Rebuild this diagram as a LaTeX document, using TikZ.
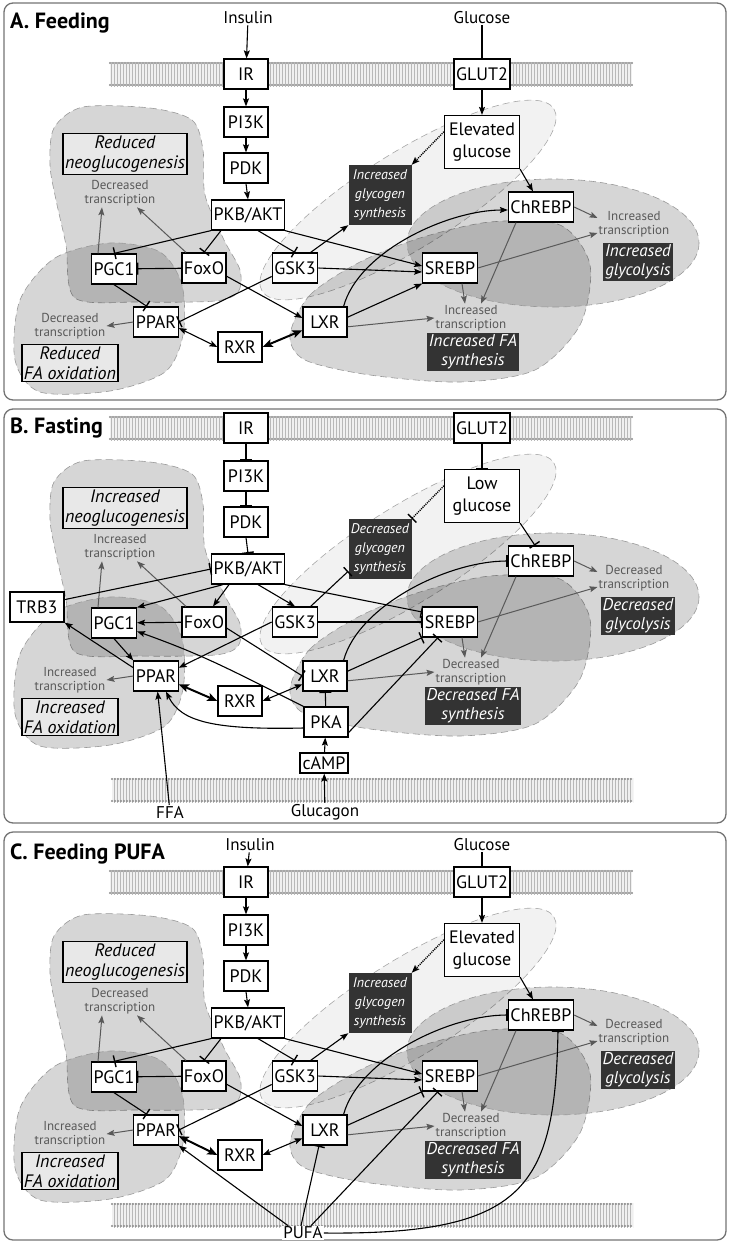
\documentclass[tikz,border=0pt]{standalone}
\usepackage{fontspec}
\setmainfont{PT Sans}
\usetikzlibrary{arrows.meta,patterns}

\begin{document}
\begin{tikzpicture}[x=1pt, y=-1pt,
    panel/.style={draw=black!55, line width=1.3pt, rounded corners=9pt},
    paneltitle/.style={anchor=west, inner sep=0pt, font=\fontsize{22}{24}\selectfont\bfseries},
    txt/.style={inner sep=1pt, font=\fontsize{17}{19}\selectfont},
    gene/.style={draw, fill=white, line width=1.2pt, minimum height=30, minimum width=44, inner sep=2pt, font=\fontsize{18}{20}\selectfont},
    lightbox/.style={draw, fill=black!9, line width=1.2pt, align=center, inner sep=2pt, font=\fontsize{18}{20}\selectfont\itshape},
    darkbox/.style={fill=black!80, text=white, align=center, inner sep=2pt, font=\fontsize{17}{19}\selectfont\itshape},
    glybox/.style={darkbox, minimum width=63, minimum height=60, inner sep=1pt, font=\fontsize{14}{19}\selectfont\itshape},
    trtext/.style={text=black!65, align=center, inner sep=1pt, font=\fontsize{13}{14.5}\selectfont},
    blob/.style={fill=black, fill opacity=0.16, draw=black!40, dash pattern=on 7pt off 4pt, line width=0.6pt},
    paleblob/.style={fill=black, fill opacity=0.05, draw=black!35, dash pattern=on 7pt off 4pt, line width=0.6pt},
    membrane/.style={fill=black!6, postaction={pattern=vertical lines, pattern color=black!28}},
    beads/.style={draw=black!45, line width=2.4pt, dash pattern=on 0pt off 3pt, line cap=round},
    act/.style={-{Stealth[length=8pt, width=6pt, inset=1.5pt]}, line width=1.1pt},
    inh/.style={-{Bar[width=12pt, line width=1.4pt]}, line width=1.1pt},
    trarr/.style={-{Stealth[length=8pt, width=6pt, inset=1.5pt]}, line width=1pt, draw=black!65},
    dimer/.style={{Stealth[length=8pt, width=6pt, inset=1.5pt]}-{Stealth[length=8pt, width=6pt, inset=1.5pt]}, line width=1.1pt},
    bigdimer/.style={{Stealth[length=10pt, width=8pt, inset=2pt]}-{Stealth[length=10pt, width=8pt, inset=2pt]}, line width=2pt},
    dotline/.style={densely dotted, line width=1.4pt}
  ]
  \useasboundingbox (0,0) rectangle (730,1243);

  % panel frames
  \draw[panel] (4,3) rectangle (726,400);
  \draw[panel] (4,409) rectangle (726,823);
  \draw[panel] (4,832) rectangle (726,1240);

  % parts shared by the three panels
  \foreach \p/\dy/\neo/\neotr/\fao/\faotr/\gly/\glc/\glctr/\fas/\fastr/\glu in {
      a/0/Reduced/Decreased/Reduced/Decreased/Increased/Increased/Increased/Increased/Increased/Elevated,
      b/354/Increased/Increased/Increased/Increased/Decreased/Decreased/Decreased/Decreased/Decreased/Low,
      c/808/Reduced/Decreased/Increased/Increased/Increased/Decreased/Decreased/Decreased/Decreased/Elevated} {
    \begin{scope}[shift={(0,\dy)}]
      % membrane
      \path[membrane] (110,62) rectangle (632,86);
      \draw[beads] (110,63) -- (632,63);
      \draw[beads] (110,85) -- (632,85);

      % shaded regions
      \draw[paleblob] (408,200) ellipse [x radius=172, y radius=48, rotate=32];
      \draw[blob] plot[smooth cycle] coordinates {(83,107) (150,108) (192,120) (203,150) (205,195) (224,240) (240,270) (238,292) (215,301) (140,302) (75,298) (66,245) (56,200) (50,165) (54,128)};
      \draw[blob] plot[smooth cycle] coordinates {(20,300) (55,258) (110,243) (160,252) (182,285) (183,335) (165,372) (110,391) (40,392) (15,360)};
      \draw[blob] plot[smooth cycle] coordinates {(290,335) (310,295) (360,262) (420,238) (490,222) (560,225) (590,265) (580,325) (535,370) (460,382) (370,375) (305,360)};
      \draw[blob] (553,243) ellipse [x radius=146, y radius=64];

      % boxes
      \node[gene] (\p-ir) at (246,74) {IR};
      \node[gene] (\p-pik) at (246,122) {PI3K};
      \node[gene] (\p-pdk) at (246,168) {PDK};
      \node[gene] (\p-pkb) at (248,215) {PKB/AKT};
      \node[gene] (\p-glut) at (482,74) {GLUT2};
      \node[gene, align=center, minimum width=75, minimum height=53, font=\fontsize{18}{22}\selectfont] (\p-glu) at (482,142) {\glu\\glucose};
      \node[gene] (\p-pgc) at (114,269) {PGC1};
      \node[gene] (\p-foxo) at (204,268) {FoxO};
      \node[gene] (\p-gsk) at (295,268) {GSK3};
      \node[gene] (\p-ppar) at (156,322) {PPAR};
      \node[gene] (\p-lxr) at (325,322) {LXR};
      \node[gene] (\p-rxr) at (240,347) {RXR};
      \node[gene] (\p-srebp) at (450,268) {SREBP};
      \node[gene] (\p-chrebp) at (541,207) {ChREBP};

      % outcomes
      \node[lightbox] (\p-neo) at (125,154) {\neo\\neoglucogenesis};
      \node[trtext] (\p-neotr) at (120,193) {\neotr\\transcription};
      \node[lightbox] (\p-fao) at (70,363) {\fao\\FA oxidation};
      \node[trtext] (\p-faotr) at (70,326) {\faotr\\transcription};
      \node[glybox] (\p-gly) at (380,195) {\gly\\glycogen\\synthesis};
      \node[darkbox] (\p-glyco) at (638,262) {\glc\\glycolysis};
      \node[trtext] (\p-glycotr) at (634,224) {\glctr\\transcription};
      \node[darkbox] (\p-fas) at (473,352) {\fas{} FA\\synthesis};
      \node[trtext] (\p-fastr) at (471,318) {\fastr\\transcription};

      % transcription arrows
      \draw[trarr] ([xshift=-16pt]\p-pgc.north) -- ([xshift=-18pt]\p-neotr.south);
      \draw[trarr] ([xshift=-18pt]\p-foxo.north) -- ([xshift=17pt]\p-neotr.south);
      \draw[trarr] (\p-ppar.west) -- (\p-faotr.east);
      \draw[trarr] (\p-chrebp.east) -- ([yshift=6pt]\p-glycotr.west);
      \draw[trarr] (\p-srebp.east) -- ([yshift=-9pt]\p-glycotr.west);
      \draw[trarr] ([xshift=12pt]\p-srebp.south) -- ([xshift=-6pt]\p-fastr.north);
      \draw[trarr] ([xshift=-25pt]\p-chrebp.south) -- ([xshift=10pt]\p-fastr.north);
      \draw[trarr] (\p-lxr.-12) -- (\p-fastr.west);
    \end{scope}
  }

  % A. Feeding
  \node[paneltitle] (a-title) at (10,23) {A. Feeding};
  \node[txt] (a-insulin) at (248,18) {Insulin};
  \node[txt] (a-glucose) at (482,18) {Glucose};
  \draw[act] (a-insulin) -- (a-ir);
  \draw[act] (a-ir) -- (a-pik);
  \draw[act] (a-pik) -- (a-pdk);
  \draw[act] (a-pdk.south) -- (a-pkb.north);
  \draw[line width=1.1pt] (a-glucose) -- (a-glut);
  \draw[act] (a-glut) -- (a-glu);
  \draw[act, dotline] (a-glu.165) -- (a-gly.north east);
  \draw[act] (a-glu.south east) -- ([xshift=-8pt]a-chrebp.north);
  \draw[inh] (a-pkb.south west) -- (a-pgc.north);
  \draw[inh] ([xshift=10pt]a-pkb.south west) -- (a-foxo.north);
  \draw[inh] ([xshift=10pt]a-pkb.south) -- (a-gsk.north);
  \draw[act] (a-pkb.south east) -- ([yshift=2pt]a-srebp.west);
  \draw[inh] (a-foxo) -- (a-pgc);
  \draw[inh] (a-pgc.south) -- ([xshift=-9pt]a-ppar.north);
  \draw[inh] (a-gsk.200) -- (a-ppar.east);
  \draw[act] (a-gsk.45) -- (a-gly.south west);
  \draw[act] (a-gsk.east) -- ([yshift=-4pt]a-srebp.west);
  \draw[act] (a-foxo.-20) -- (a-lxr.170);
  \draw[dimer] (a-ppar.-15) -- (a-rxr.west);
  \draw[bigdimer] (a-rxr.east) -- (a-lxr.200);
  \draw[act] (a-lxr.12) -- (a-srebp.south west);
  \draw[act] (a-lxr.40) .. controls +(15,-55) and +(-60,0) .. ([yshift=-3pt]a-chrebp.west);

  % B. Fasting
  \node[paneltitle] (b-title) at (10,428) {B. Fasting};
  \path[membrane] (112,778) rectangle (633,802);
  \draw[beads] (112,779) -- (633,779);
  \draw[beads] (112,801) -- (633,801);
  \node[gene, minimum width=54] (b-trb) at (37,607) {TRB3};
  \node[gene] (b-pka) at (326,722) {PKA};
  \node[gene, minimum height=20, minimum width=48, inner sep=1pt] (b-camp) at (324,763) {cAMP};
  \node[txt] (b-ffa) at (170,812) {FFA};
  \node[txt] (b-glucagon) at (325,812) {Glucagon};
  \draw[inh] (b-ir) -- (b-pik);
  \draw[inh] (b-pik) -- (b-pdk);
  \draw[inh] (b-pdk.south) -- (b-pkb.north);
  \draw[inh] (b-glut) -- (b-glu);
  \draw[inh, dotline] (b-glu.165) -- (b-gly.north east);
  \draw[inh] (b-glu.south east) -- ([xshift=-6pt]b-chrebp.north);
  \draw[inh] (b-trb.15) -- (b-pkb.west);
  \draw[act] ([xshift=12pt]b-pkb.south west) -- (b-pgc.north east);
  \draw[act] ([xshift=18pt]b-pkb.south west) -- ([xshift=9pt]b-foxo.north);
  \draw[act] ([xshift=10pt]b-pkb.south) -- (b-gsk.north);
  \draw[inh] (b-pkb.south east) -- ([yshift=10pt]b-srebp.west);
  \draw[act] (b-foxo) -- (b-pgc);
  \draw[act] (b-pgc.south) -- (b-ppar.north west);
  \draw[act] (b-gsk.west) -- (b-ppar.20);
  \draw[inh] (b-gsk.45) -- ([yshift=8pt]b-gly.south west);
  \draw[inh] (b-gsk.east) -- (b-srebp.west);
  \draw[inh] (b-foxo.-15) -- (b-lxr.west);
  \draw[bigdimer] (b-ppar.-20) -- (b-rxr.west);
  \draw[dimer] (b-rxr.east) -- (b-lxr.200);
  \draw[inh] (b-lxr.12) -- (b-srebp.south west);
  \draw[inh] (b-lxr.40) .. controls +(15,-55) and +(-60,0) .. (b-chrebp.west);
  \draw[inh] (b-pka) -- (b-lxr);
  \draw[act] ([yshift=-6pt]b-pka.west) .. controls +(-90,2) and +(15,30) .. ([xshift=10pt]b-ppar.south);
  \draw[act] (b-pka.north west) .. controls +(-70,-35) and +(70,25) .. (b-pgc.-20);
  \draw[inh] (b-pka.-25) -- ([xshift=-12pt]b-srebp.south);
  \draw[act] (b-camp) -- (b-pka);
  \draw[act] (b-glucagon) -- (b-camp);
  \draw[act] (b-ffa) -- (b-ppar);
  \draw[act] (b-ppar.160) -- (b-trb.south east);

  % C. Feeding PUFA
  \node[paneltitle] (c-title) at (10,854) {C. Feeding PUFA};
  \node[txt] (c-insulin) at (250,845) {Insulin};
  \node[txt] (c-glucose) at (482,845) {Glucose};
  \path[membrane] (112,1203) rectangle (633,1227);
  \draw[beads] (112,1204) -- (633,1204);
  \draw[beads] (112,1226) -- (633,1226);
  \node[txt, fill=white] (c-pufa) at (303,1233) {PUFA};
  \draw[act] (c-insulin) -- (c-ir);
  \draw[act] (c-ir) -- (c-pik);
  \draw[act] (c-pik) -- (c-pdk);
  \draw[act] (c-pdk.south) -- (c-pkb.north);
  \draw[line width=1.1pt] (c-glucose) -- (c-glut);
  \draw[act] (c-glut) -- (c-glu);
  \draw[act, dotline] (c-glu.165) -- (c-gly.north east);
  \draw[act] (c-glu.south east) -- ([xshift=-8pt]c-chrebp.north);
  \draw[inh] (c-pkb.south west) -- (c-pgc.north);
  \draw[inh] ([xshift=10pt]c-pkb.south west) -- (c-foxo.north);
  \draw[inh] ([xshift=10pt]c-pkb.south) -- (c-gsk.north);
  \draw[act] (c-pkb.south east) -- ([yshift=2pt]c-srebp.west);
  \draw[inh] (c-foxo) -- (c-pgc);
  \draw[inh] (c-pgc.south) -- ([xshift=-9pt]c-ppar.north);
  \draw[inh] (c-gsk.200) -- (c-ppar.east);
  \draw[act] (c-gsk.45) -- (c-gly.south west);
  \draw[act] (c-gsk.east) -- ([yshift=-4pt]c-srebp.west);
  \draw[act] (c-foxo.-20) -- (c-lxr.170);
  \draw[bigdimer] (c-ppar.-15) -- (c-rxr.west);
  \draw[dimer] (c-rxr.east) -- (c-lxr.200);
  \draw[inh] (c-lxr.12) -- (c-srebp.south west);
  \draw[inh] (c-lxr.40) .. controls +(15,-55) and +(-60,0) .. (c-chrebp.west);
  \draw[act] ([xshift=6pt]c-pufa.north west) -- (c-ppar.south east);
  \draw[inh] ([xshift=-2pt]c-pufa.north) -- ([xshift=-6pt]c-lxr.south);
  \draw[inh] ([xshift=8pt]c-pufa.north) -- ([xshift=-12pt]c-srebp.south);
  \draw[inh] (c-pufa.east) .. controls +(200,2) and +(-3,158) .. ([xshift=17pt]c-chrebp.south);
\end{tikzpicture}
\end{document}
